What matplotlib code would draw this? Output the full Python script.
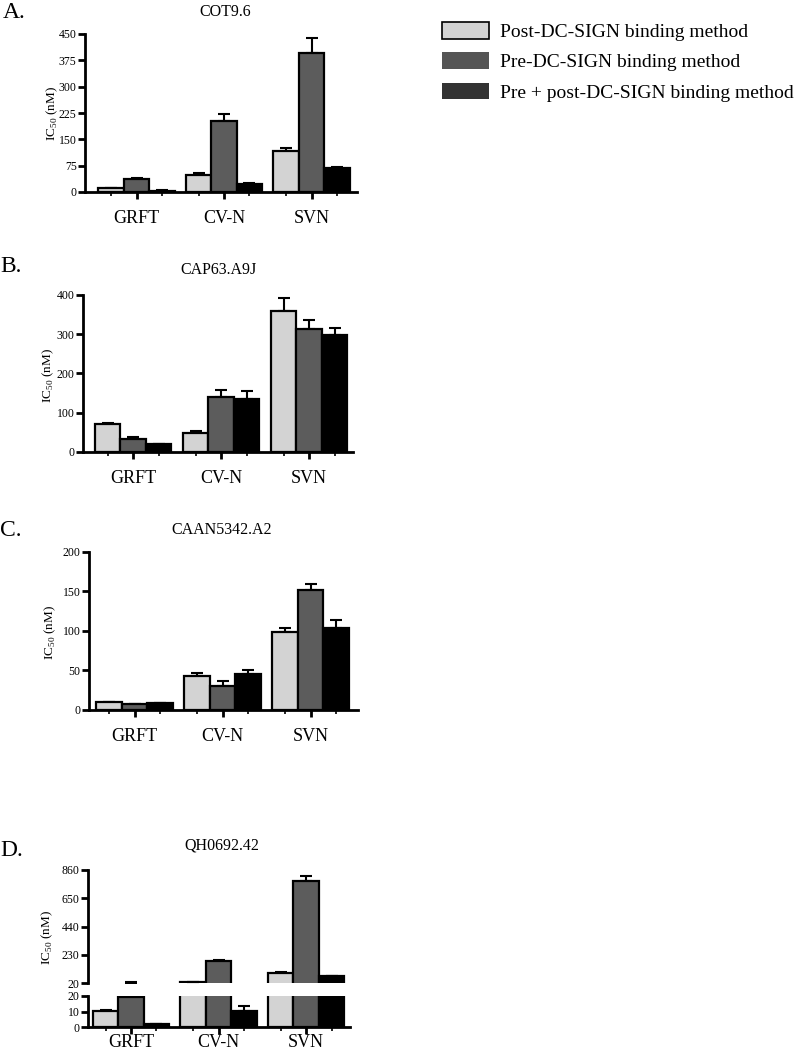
#!/usr/bin/env python3

import numpy as np
import matplotlib
matplotlib.use("Agg")
import matplotlib.pyplot as plt
from matplotlib.patches import Patch

plt.rcParams['font.family'] = ['Liberation Serif', 'DejaVu Serif']
plt.rcParams['mathtext.fontset'] = 'custom'
plt.rcParams['mathtext.rm'] = 'Liberation Serif'

# data (mean, error above mean)
lectins = ["GRFT", "CV-N", "SVN"]
methods = ["Post-DC-SIGN binding method", "Pre-DC-SIGN binding method",
           "Pre + post-DC-SIGN binding method"]

cot_post = [10.4, 48, 118];   cot_post_err = [1.5, 5, 7]
cot_pre = [37, 202, 397];     cot_pre_err = [2, 21, 41]
cot_both = [4, 24, 67];       cot_both_err = [0.5, 2, 3]

cap_post = [72, 48, 358];     cap_post_err = [2, 6, 34]
cap_pre = [33, 141, 312];     cap_pre_err = [4, 16, 23]
cap_both = [19.5, 134, 298];  cap_both_err = [2, 22, 18]

caan_post = [9.7, 43.4, 99];  caan_post_err = [0.5, 3, 4.6]
caan_pre = [7.6, 30.3, 152];  caan_pre_err = [0.5, 6, 7.6]
caan_both = [8.8, 45.5, 104]; caan_both_err = [0.5, 4.5, 10]

qh_post = [10.4, 27, 94];     qh_post_err = [0.6, 1, 5]
qh_pre = [19.6, 185, 781];    qh_pre_err = [5.5, 4, 34]
qh_both = [1.7, 10.4, 69];    qh_both_err = [0.2, 3.2, 2]

colors = ["#d3d3d3", "#5c5c5c", "#000000"]
W, H = 796, 1050
WIDTH = 0.29
fig = plt.figure(figsize=(W / 100, H / 100), dpi=100)

def box(l, r, t, b):
    return [l / W, 1 - b / H, (r - l) / W, (b - t) / H]

def bars(ax, means, errs, floor=None):
    x = np.arange(len(lectins))
    for i, (m, e) in enumerate(zip(means, errs)):
        m = np.array(m, float)
        e = np.array(e, float)
        xi = x + (i - 1) * WIDTH
        mb, me = m.copy(), m.copy()
        if floor is not None:
            # hide marks that lie below the visible part of a broken axis
            mb[m < floor] = np.nan
            me[m + e < floor] = np.nan
        ax.errorbar(xi, me, yerr=[np.zeros(len(e)), e], fmt="none",
                    ecolor="black", elinewidth=1.5, capsize=4.5, capthick=1.5, zorder=1)
        ax.bar(xi, mb, WIDTH, color=colors[i], edgecolor="black", linewidth=1.6, zorder=2)

def style(ax, xlim, ylim, yticks, show_x=True, pad=8):
    ax.set_xlim(*xlim)
    ax.set_ylim(*ylim)
    ax.set_yticks(yticks)
    for s in ["top", "right"]:
        ax.spines[s].set_visible(False)
    for s in ["left", "bottom"]:
        ax.spines[s].set_linewidth(2)
    ax.tick_params(axis="y", direction="out", length=5, width=2, labelsize=8.5, pad=1)
    if show_x:
        x = np.arange(len(lectins))
        ax.set_xticks(x)
        ax.set_xticks(np.concatenate([x - WIDTH, x + WIDTH]), minor=True)
        ax.set_xticklabels(lectins, fontsize=13)
        ax.tick_params(axis="x", which="major", direction="out", length=5, width=2, pad=pad)
        ax.tick_params(axis="x", which="minor", direction="out", length=3, width=1.2)
    else:
        ax.set_xticks([])
        ax.spines["bottom"].set_visible(False)

def ylabel(x, y):
    fig.text(x / W, 1 - y / H, "IC$_{50}$ (nM)", rotation=90, fontsize=9.5,
             ha="center", va="center")

# A
axA = fig.add_axes(box(85, 357, 34, 192))
bars(axA, [cot_post, cot_pre, cot_both], [cot_post_err, cot_pre_err, cot_both_err])
style(axA, (-0.589, 2.52), (0, 450), [0, 75, 150, 225, 300, 375, 450])
ylabel(52, 113)
fig.text(3 / W, 1 - 13 / H, "A.", fontsize=17, va="center")
fig.text(225 / W, 1 - 12 / H, "COT9.6", fontsize=11.5, ha="center", va="center")

# B
axB = fig.add_axes(box(83, 353, 294.7, 452))
bars(axB, [cap_post, cap_pre, cap_both], [cap_post_err, cap_pre_err, cap_both_err])
style(axB, (-0.571, 2.50), (0, 400), [0, 100, 200, 300, 400])
ylabel(48, 375)
fig.text(0 / W, 1 - 267 / H, "B.", fontsize=17, va="center")
fig.text(218 / W, 1 - 270 / H, "CAP63.A9J", fontsize=11.5, ha="center", va="center")

# C
axC = fig.add_axes(box(89, 358, 551.7, 710))
bars(axC, [caan_post, caan_pre, caan_both], [caan_post_err, caan_pre_err, caan_both_err])
style(axC, (-0.52, 2.54), (0, 200), [0, 50, 100, 150, 200])
ylabel(50, 632)
fig.text(0 / W, 1 - 530 / H, "C.", fontsize=17, va="center")
fig.text(222 / W, 1 - 530 / H, "CAAN5342.A2", fontsize=11.5, ha="center", va="center")

# D (broken y axis)
axDt = fig.add_axes(box(88, 350, 870, 983))
axDb = fig.add_axes(box(88, 350, 996, 1027))
bars(axDt, [qh_post, qh_pre, qh_both], [qh_post_err, qh_pre_err, qh_both_err], floor=20)
bars(axDb, [qh_post, qh_pre, qh_both], [qh_post_err, qh_pre_err, qh_both_err])
style(axDt, (-0.49, 2.50), (20, 860), [20, 230, 440, 650, 860], show_x=False)
style(axDb, (-0.49, 2.50), (0, 20), [0, 10, 20], pad=0)
ylabel(47, 937)
fig.text(0 / W, 1 - 850 / H, "D.", fontsize=17, va="center")
fig.text(222 / W, 1 - 845 / H, "QH0692.42", fontsize=11.5, ha="center", va="center")

# legend
handles = [Patch(facecolor="#d3d3d3", edgecolor="black", linewidth=1.2),
           Patch(facecolor="#555555", edgecolor="none"),
           Patch(facecolor="#333333", edgecolor="none")]
fig.legend(handles, methods, loc="upper left", bbox_to_anchor=(442 / W, 1 - 22 / H),
           frameon=False, fontsize=14, handlelength=2.4, handleheight=0.95,
           handletextpad=0.6, labelspacing=0.58, borderpad=0, borderaxespad=0)

fig.savefig("out.png", dpi=100)
